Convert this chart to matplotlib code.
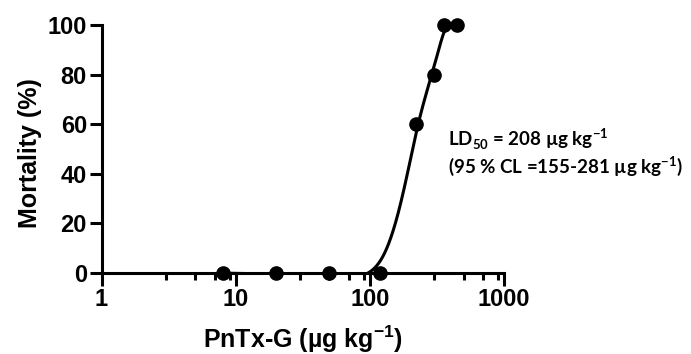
import numpy as np
import matplotlib
matplotlib.use("Agg")
import matplotlib.pyplot as plt
from matplotlib.ticker import FixedLocator, NullFormatter

dose = [8, 20, 50, 120, 220, 300, 360, 450]
mortality = [0, 0, 0, 0, 60, 80, 100, 100]
xtick_vals = [1, 10, 100, 1000]
xtick_labels = ["1", "10", "100", "1000"]
ytick_vals = [0, 20, 40, 60, 80, 100]


def smoothing_spline(x, y, lam, xe):
    """Natural cubic smoothing spline (Reinsch) evaluated at xe."""
    x = np.asarray(x, float); y = np.asarray(y, float)
    n = len(x); h = np.diff(x)
    Q = np.zeros((n, n - 2)); R = np.zeros((n - 2, n - 2))
    for j in range(1, n - 1):
        Q[j - 1, j - 1] = 1 / h[j - 1]
        Q[j, j - 1] = -1 / h[j - 1] - 1 / h[j]
        Q[j + 1, j - 1] = 1 / h[j]
        R[j - 1, j - 1] = (h[j - 1] + h[j]) / 3
        if j < n - 2:
            R[j - 1, j] = R[j, j - 1] = h[j] / 6
    A = np.eye(n) + lam * Q @ np.linalg.solve(R, Q.T)
    g = np.linalg.solve(A, y)
    gam = np.concatenate([[0], np.linalg.solve(R, Q.T @ g), [0]])
    out = np.empty_like(xe)
    for k, t in enumerate(xe):
        i = min(max(np.searchsorted(x, t) - 1, 0), n - 2)
        a = t - x[i]; b = x[i + 1] - t
        out[k] = (a * g[i + 1] + b * g[i]) / h[i] - a * b / 6 * (
            (1 + a / h[i]) * gam[i + 1] + (1 + b / h[i]) * gam[i])
    return out


plt.rcParams['font.family'] = ['Liberation Sans', 'DejaVu Sans']
plt.rcParams['font.weight'] = 'bold'

fig = plt.figure(figsize=(6.91, 3.54), dpi=100)
ax = fig.add_axes([101.5 / 691, 1 - 273 / 354, 402.5 / 691, 248 / 354])

xd = np.asarray(dose, float)
xe = np.geomspace(xd[0], xd[-1], 600)
ye = smoothing_spline(xd, mortality, 2e4, xe)
ax.plot(xe, ye, color='black', lw=2.2, solid_capstyle='round')
ax.plot(dose, mortality, 'o', color='black', ms=9.5, clip_on=False, zorder=5)

ax.set_xscale('log')
ax.set_xlim(1, 1000)
ax.set_ylim(0, 100)
for s in ['top', 'right']:
    ax.spines[s].set_visible(False)
for s in ['left', 'bottom']:
    ax.spines[s].set_linewidth(2.2)
ax.xaxis.set_major_locator(FixedLocator(xtick_vals))
ax.set_xticklabels(xtick_labels)
minors = [m * d for d in [1, 10, 100] for m in [3, 5, 7, 9]]
ax.xaxis.set_minor_locator(FixedLocator(minors))
ax.xaxis.set_minor_formatter(NullFormatter())
ax.set_yticks(ytick_vals)
ax.tick_params(axis='x', which='major', length=9, width=2.2, labelsize=17, pad=2)
ax.tick_params(axis='x', which='minor', length=5, width=2.2)
ax.tick_params(axis='y', which='major', length=9, width=2.2, labelsize=17, pad=1.5)

ax.set_ylabel('Mortality (%)', fontsize=18, fontweight='bold')
ax.yaxis.set_label_coords(-0.178, 0.484)
ax.yaxis.label.set_va('center')
ax.set_xlabel(r'PnTx-G (µg kg$^{\mathdefault{-1}}$)', fontsize=18, fontweight='bold')
ax.xaxis.set_label_coords(0.5, -0.302)
ax.xaxis.label.set_va('baseline')

fig.text(448 / 691, 1 - 147 / 354, r'LD$_{\mathdefault{50}}$ = 208 µg kg$^{\mathdefault{-1}}$',
         family=['Lato', 'DejaVu Sans'], fontweight='bold', fontsize=13.5, va='baseline', ha='left')
fig.text(448 / 691, 1 - 173 / 354, r'(95 % CL =155-281 µg kg$^{\mathdefault{-1}}$)',
         family=['Lato', 'DejaVu Sans'], fontweight='bold', fontsize=13.5, va='baseline', ha='left')

fig.savefig('out.png', dpi=100)
